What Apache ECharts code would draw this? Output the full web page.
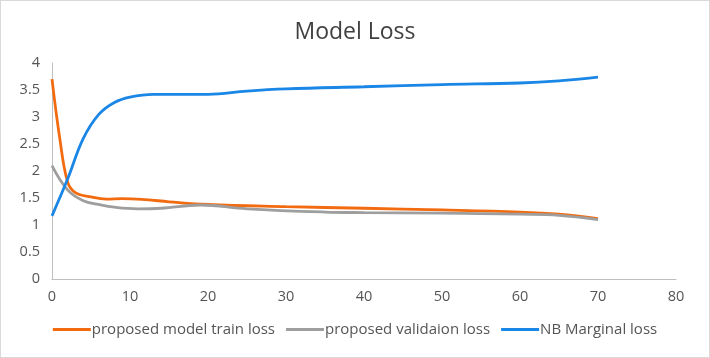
<!DOCTYPE html>
<html><head><meta charset="utf-8">
<script src="https://cdn.jsdelivr.net/npm/echarts@6/dist/echarts.min.js"></script>
<style>html,body{margin:0;padding:0;background:#fff}#c{width:710px;height:358px;box-sizing:border-box;border:1px solid #d9d9d9}</style>
</head><body><div id="c"></div>
<script>
const trainX = [0, 1, 2, 3, 5, 7, 9, 12, 15, 20, 30, 40, 50, 60, 65, 70];
const trainY = [3.7, 2.6, 1.8, 1.6, 1.52, 1.48, 1.49, 1.47, 1.43, 1.38, 1.34, 1.31, 1.28, 1.24, 1.2, 1.12];
const valX = [0, 2, 4, 6, 8, 11, 14, 19, 25, 35, 40, 50, 60, 65, 70];
const valY = [2.1, 1.65, 1.45, 1.38, 1.33, 1.3, 1.31, 1.37, 1.3, 1.24, 1.23, 1.22, 1.2, 1.18, 1.1];
const nbX = [0, 2, 4, 6, 8, 10, 13, 17, 20, 25, 30, 40, 50, 60, 65, 70];
const nbY = [1.17, 1.85, 2.6, 3.05, 3.27, 3.37, 3.42, 3.42, 3.42, 3.48, 3.52, 3.56, 3.6, 3.63, 3.67, 3.74];
const seriesNames = ['proposed model train loss', 'proposed validaion loss', 'NB Marginal loss'];
const pair = (xs, ys) => xs.map((x, i) => [x, ys[i]]);

const chart = echarts.init(document.getElementById('c'));
const mk = (name, data, color) => ({
  name, type: 'line', data, smooth: 0.4, showSymbol: false, symbol: 'none',
  lineStyle: { color, width: 2.8 }, itemStyle: { color }
});
chart.setOption({
  animation: false,
  title: { text: 'Model Loss', left: 'center', top: 15,
    textStyle: { fontFamily: 'Open Sans', fontSize: 23, fontWeight: 'normal', color: '#404040' } },
  grid: { left: 51, right: 33, top: 62, bottom: 78 },
  legend: { bottom: 15, left: 'center', itemWidth: 38, itemHeight: 3, itemGap: 11,
    icon: 'rect',
    textStyle: { fontFamily: 'Open Sans', fontSize: 15, color: '#555', padding: [0,0,0,-4] },
    data: seriesNames },
  xAxis: { type: 'value', min: 0, max: 80, interval: 10,
    axisLine: { lineStyle: { color: '#bfbfbf' } }, axisTick: { show: false },
    splitLine: { show: false },
    axisLabel: { fontFamily: 'Open Sans', fontSize: 14.5, color: '#555', margin: 10 } },
  yAxis: { type: 'value', min: 0, max: 4, interval: 0.5,
    axisLine: { show: true, lineStyle: { color: '#bfbfbf' } }, axisTick: { show: false },
    splitLine: { show: false },
    axisLabel: { fontFamily: 'Open Sans', fontSize: 14.5, color: '#555', margin: 12 } },
  series: [
    mk(seriesNames[0], pair(trainX, trainY), '#f26b11'),
    mk(seriesNames[1], pair(valX, valY), '#9e9e9e'),
    mk(seriesNames[2], pair(nbX, nbY), '#1a86e6')
  ]
});
</script></body></html>
